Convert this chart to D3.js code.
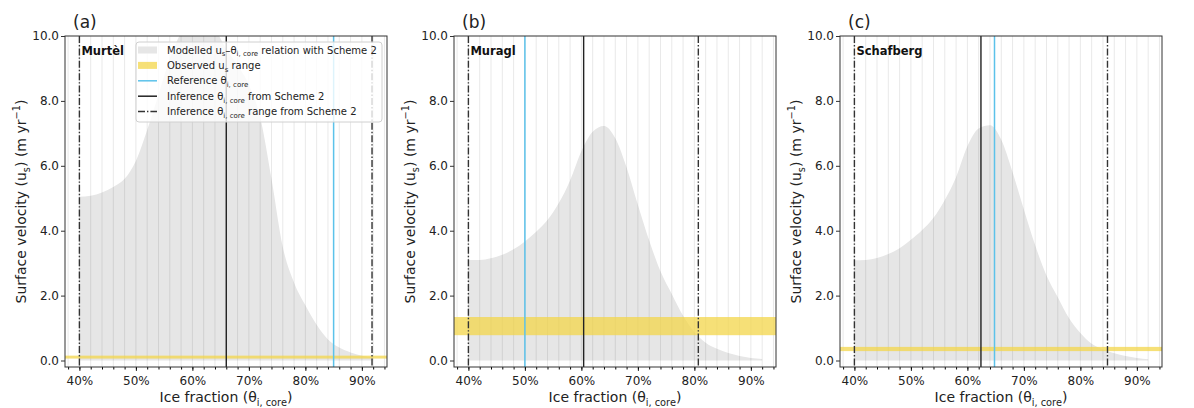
<!DOCTYPE html>
<html>
<head>
<meta charset="utf-8">
<script src="https://cdn.jsdelivr.net/npm/d3@7"></script>
<style>
  body { margin: 0; background: #fff; }
  svg { display: block; font-family: "DejaVu Sans", sans-serif; }
</style>
</head>
<body>
<div id="chart"></div>
<script>
// ice fraction (%) sample points of the modelled curves
const iceFraction = [40, 42, 44, 46, 48, 50, 52, 54, 56, 58, 60, 62, 64, 66, 68, 70, 72, 74, 76, 78, 80, 82, 84, 86, 88, 90, 92];

// modelled surface velocity (m/yr) for each site
const velocityMurtel = [5.05, 5.08, 5.18, 5.35, 5.6, 6.15, 7.1, 8.2, 9.3, 10.1, 10.5, 10.5, 10.2, 9.6, 9.1, 8.5, 7.5, 5.6, 3.5, 2.4, 1.7, 1.1, 0.65, 0.4, 0.25, 0.15, 0.1];
const velocityMuragl = [3.1, 3.1, 3.15, 3.26, 3.43, 3.67, 3.97, 4.33, 4.85, 5.55, 6.45, 7.05, 7.23, 6.85, 5.95, 4.8, 3.7, 2.75, 2.05, 1.38, 0.88, 0.55, 0.36, 0.23, 0.14, 0.08, 0.05];
const velocitySchafberg = [3.09, 3.1, 3.16, 3.28, 3.46, 3.72, 4.02, 4.4, 4.95, 5.65, 6.6, 7.15, 7.25, 6.8, 5.8, 4.65, 3.55, 2.62, 1.95, 1.3, 0.85, 0.52, 0.35, 0.22, 0.14, 0.08, 0.04];

const siteNames = ["Murtèl", "Muragl", "Schafberg"];
const panelLabels = ["(a)", "(b)", "(c)"];
const observedRange = [[0.06, 0.15], [0.78, 1.34], [0.29, 0.42]];
const referenceTheta = [85, 50, 64.8];
const inferenceTheta = [66, 60.4, 62.4];
const inferenceRange = [[40, 91.8], [40, 80.7], [40, 84.8]];

const xTicks = [40, 50, 60, 70, 80, 90];
const xMinorTicks = [38, 40, 42, 44, 46, 48, 50, 52, 54, 56, 58, 60, 62, 64, 66, 68, 70, 72, 74, 76, 78, 80, 82, 84, 86, 88, 90, 92, 94];
const yTicks = [0, 2, 4, 6, 8, 10];

const W = 1194, H = 408;
const panelLeft = [65, 454, 840];
const plotTop = 36, plotW = 322, plotH = 331;

const FILL = "#e6e6e6";
const BAND = "#f3d64a";
const BLUE = "#5cc2ea";
const DARK = "#222";

const svg = d3.select("#chart").append("svg")
  .attr("width", W)
  .attr("height", H);

svg.append("rect").attr("width", W).attr("height", H).attr("fill", "#fff");

// text with sub/superscript parts
function rich(text, parts, fs) {
  let shift = 0;
  parts.forEach(([s, m]) => {
    const t = text.append("tspan").text(s);
    const target = m === "sub" ? fs * 0.28 : m === "sup" ? -fs * 0.4 : 0;
    if (target !== shift) {
      t.attr("dy", target - shift);
      shift = target;
    }
    if (m) t.attr("font-size", fs * 0.7);
  });
}

const x = d3.scaleLinear().domain([37.45, 94.45]).range([0, plotW]);
const y = d3.scaleLinear().domain([-0.2, 10]).range([plotH, 0]);

const curves = [velocityMurtel, velocityMuragl, velocitySchafberg];

curves.forEach((vel, i) => {
  const g = svg.append("g")
    .attr("transform", `translate(${panelLeft[i]}, ${plotTop})`);

  g.append("clipPath").attr("id", `clip${i}`)
    .append("rect").attr("width", plotW).attr("height", plotH);

  const plot = g.append("g").attr("clip-path", `url(#clip${i})`);

  // modelled relation
  const area = d3.area()
    .x((d, j) => x(iceFraction[j]))
    .y0(y(0))
    .y1(d => y(d))
    .curve(d3.curveMonotoneX);

  plot.append("path")
    .datum(vel)
    .attr("d", area)
    .attr("fill", FILL);

  // vertical grid
  plot.selectAll(".grid")
    .data(xMinorTicks)
    .enter()
    .append("line")
    .attr("x1", d => x(d)).attr("x2", d => x(d))
    .attr("y1", 0).attr("y2", plotH)
    .attr("stroke", "#000")
    .attr("stroke-opacity", 0.09)
    .attr("stroke-width", 1);

  // observed velocity range
  plot.append("rect")
    .attr("x", 0)
    .attr("width", plotW)
    .attr("y", y(observedRange[i][1]))
    .attr("height", y(observedRange[i][0]) - y(observedRange[i][1]))
    .attr("fill", BAND)
    .attr("opacity", 0.75);

  // reference, inference, inference range
  plot.append("line")
    .attr("x1", x(referenceTheta[i])).attr("x2", x(referenceTheta[i]))
    .attr("y1", 0).attr("y2", plotH)
    .attr("stroke", BLUE).attr("stroke-width", 1.5);

  plot.append("line")
    .attr("x1", x(inferenceTheta[i])).attr("x2", x(inferenceTheta[i]))
    .attr("y1", 0).attr("y2", plotH)
    .attr("stroke", DARK).attr("stroke-width", 1.4);

  plot.selectAll(".range")
    .data(inferenceRange[i])
    .enter()
    .append("line")
    .attr("x1", d => x(d)).attr("x2", d => x(d))
    .attr("y1", 0).attr("y2", plotH)
    .attr("stroke", "#333").attr("stroke-width", 1.4)
    .attr("stroke-dasharray", "7,2,1.4,2");

  // axes
  const xAxis = g.append("g")
    .attr("transform", `translate(0, ${plotH})`)
    .call(d3.axisBottom(x).tickValues(xTicks).tickSize(4).tickFormat(d => d + "%"));
  g.append("g")
    .attr("transform", `translate(0, ${plotH})`)
    .call(d3.axisBottom(x).tickValues(xMinorTicks).tickSize(2.5).tickFormat(""))
    .call(s => s.select(".domain").remove());
  const yAxis = g.append("g")
    .call(d3.axisLeft(y).tickValues(yTicks).tickSize(4).tickFormat(d3.format(".1f")));

  [xAxis, yAxis].forEach(a => {
    a.select(".domain").remove();
    a.selectAll("text")
      .attr("font-size", 12)
      .attr("fill", "#222")
      .attr("font-family", "DejaVu Sans");
    a.selectAll("line").attr("stroke", "#333");
  });
  xAxis.selectAll("text").attr("dy", "0.9em");
  yAxis.selectAll("text").attr("x", -6);

  g.append("rect")
    .attr("width", plotW).attr("height", plotH)
    .attr("fill", "none")
    .attr("stroke", "#333").attr("stroke-width", 1);

  // axis labels
  const xl = g.append("text")
    .attr("x", plotW / 2)
    .attr("y", plotH + 35)
    .attr("text-anchor", "middle")
    .attr("font-size", 14)
    .attr("fill", "#222");
  rich(xl, [["Ice fraction (θ", ""], ["i, core", "sub"], [")", ""]], 14);

  const yl = g.append("text")
    .attr("transform", `translate(-39, ${plotH / 2}) rotate(-90)`)
    .attr("text-anchor", "middle")
    .attr("font-size", 14)
    .attr("fill", "#222");
  rich(yl, [["Surface velocity (u", ""], ["s", "sub"], [") (m yr", ""], ["−1", "sup"], [")", ""]], 14);

  // panel label and site name
  g.append("text")
    .attr("x", 8)
    .attr("y", -8)
    .attr("font-size", 17)
    .attr("fill", "#222")
    .text(panelLabels[i]);

  g.append("text")
    .attr("x", x(40) + 2)
    .attr("y", 19)
    .attr("font-size", 11.5)
    .attr("font-weight", "bold")
    .attr("fill", "#111")
    .text(siteNames[i]);
});

// legend in panel (a)
const lg = svg.append("g").attr("transform", `translate(136, 42)`);
lg.append("rect")
  .attr("width", 246).attr("height", 80)
  .attr("rx", 3)
  .attr("fill", "#fff").attr("fill-opacity", 0.8)
  .attr("stroke", "#d0d0d0");

const legendItems = [
  { kind: "patch", color: FILL, parts: [["Modelled u", ""], ["s", "sub"], ["–θ", ""], ["i, core", "sub"], [" relation with Scheme 2", ""]] },
  { kind: "patch", color: BAND, parts: [["Observed u", ""], ["s", "sub"], [" range", ""]] },
  { kind: "line", color: BLUE, dash: null, parts: [["Reference θ", ""], ["i, core", "sub"]] },
  { kind: "line", color: DARK, dash: null, parts: [["Inference θ", ""], ["i, core", "sub"], [" from Scheme 2", ""]] },
  { kind: "line", color: "#333", dash: "7,2,1.4,2", parts: [["Inference θ", ""], ["i, core", "sub"], [" range from Scheme 2", ""]] }
];

legendItems.forEach((item, k) => {
  const cy = 8 + k * 15.4;
  if (item.kind === "patch") {
    lg.append("rect")
      .attr("x", 2).attr("y", cy - 3.5)
      .attr("width", 19).attr("height", 7)
      .attr("fill", item.color)
      .attr("opacity", item.color === BAND ? 0.75 : 1);
  } else {
    lg.append("line")
      .attr("x1", 2).attr("x2", 21)
      .attr("y1", cy).attr("y2", cy)
      .attr("stroke", item.color).attr("stroke-width", 1.5)
      .attr("stroke-dasharray", item.dash);
  }
  const t = lg.append("text")
    .attr("x", 31)
    .attr("y", cy + 3.5)
    .attr("font-size", 10)
    .attr("fill", "#222");
  rich(t, item.parts, 10);
});
</script>
</body>
</html>
